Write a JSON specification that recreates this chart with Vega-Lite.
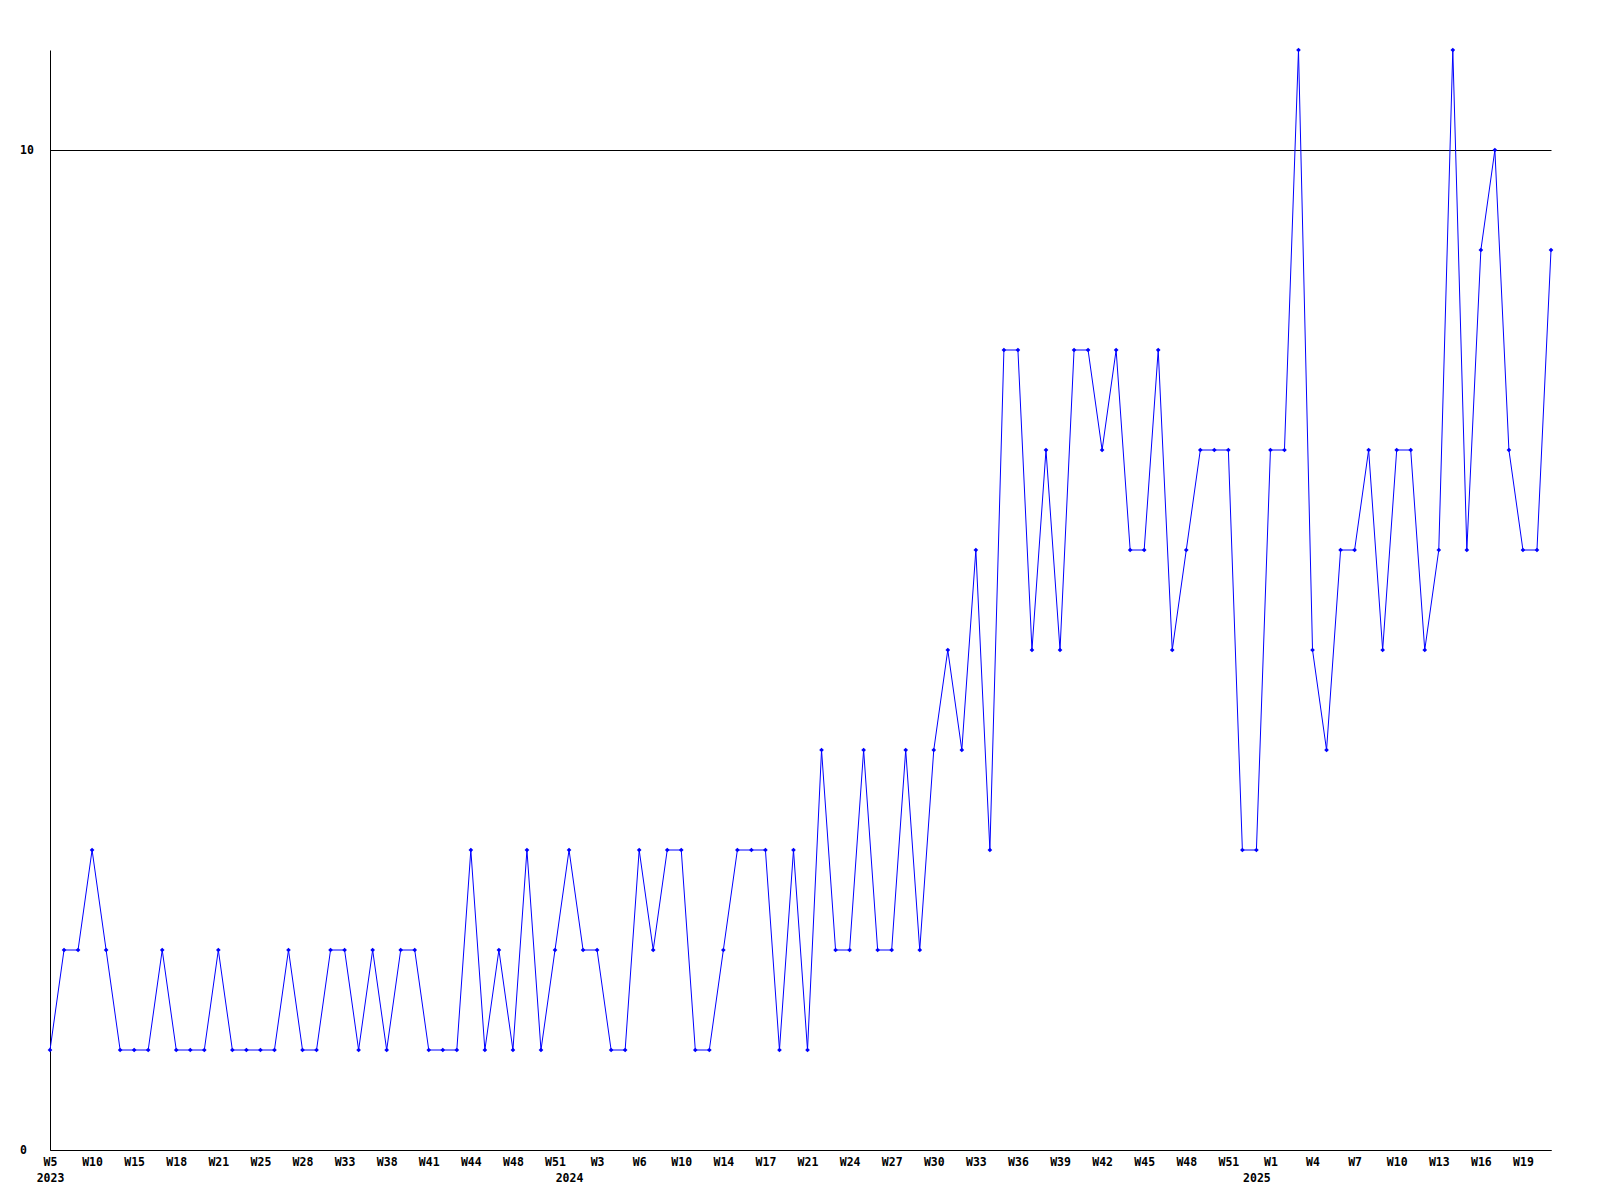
{
  "$schema": "https://vega.github.io/schema/vega-lite/v6.json",
  "width": 1501,
  "height": 1100,
  "autosize": {"type": "none"},
  "padding": {"left": 50, "top": 50, "right": 49, "bottom": 50},
  "background": "white",
  "config": {"view": {"stroke": null}},
  "data": {"values": [
    {"week": "2023-W05", "count": 1},
    {"week": "2023-W07", "count": 2},
    {"week": "2023-W08", "count": 2},
    {"week": "2023-W10", "count": 3},
    {"week": "2023-W12", "count": 2},
    {"week": "2023-W13", "count": 1},
    {"week": "2023-W15", "count": 1},
    {"week": "2023-W16", "count": 1},
    {"week": "2023-W17", "count": 2},
    {"week": "2023-W18", "count": 1},
    {"week": "2023-W19", "count": 1},
    {"week": "2023-W20", "count": 1},
    {"week": "2023-W21", "count": 2},
    {"week": "2023-W22", "count": 1},
    {"week": "2023-W24", "count": 1},
    {"week": "2023-W25", "count": 1},
    {"week": "2023-W26", "count": 1},
    {"week": "2023-W27", "count": 2},
    {"week": "2023-W28", "count": 1},
    {"week": "2023-W30", "count": 1},
    {"week": "2023-W31", "count": 2},
    {"week": "2023-W33", "count": 2},
    {"week": "2023-W35", "count": 1},
    {"week": "2023-W36", "count": 2},
    {"week": "2023-W38", "count": 1},
    {"week": "2023-W39", "count": 2},
    {"week": "2023-W40", "count": 2},
    {"week": "2023-W41", "count": 1},
    {"week": "2023-W42", "count": 1},
    {"week": "2023-W43", "count": 1},
    {"week": "2023-W44", "count": 3},
    {"week": "2023-W45", "count": 1},
    {"week": "2023-W47", "count": 2},
    {"week": "2023-W48", "count": 1},
    {"week": "2023-W49", "count": 3},
    {"week": "2023-W50", "count": 1},
    {"week": "2023-W51", "count": 2},
    {"week": "2024-W00", "count": 3},
    {"week": "2024-W02", "count": 2},
    {"week": "2024-W03", "count": 2},
    {"week": "2024-W04", "count": 1},
    {"week": "2024-W05", "count": 1},
    {"week": "2024-W06", "count": 3},
    {"week": "2024-W07", "count": 2},
    {"week": "2024-W09", "count": 3},
    {"week": "2024-W10", "count": 3},
    {"week": "2024-W11", "count": 1},
    {"week": "2024-W12", "count": 1},
    {"week": "2024-W14", "count": 2},
    {"week": "2024-W15", "count": 3},
    {"week": "2024-W16", "count": 3},
    {"week": "2024-W17", "count": 3},
    {"week": "2024-W18", "count": 1},
    {"week": "2024-W20", "count": 3},
    {"week": "2024-W21", "count": 1},
    {"week": "2024-W22", "count": 4},
    {"week": "2024-W23", "count": 2},
    {"week": "2024-W24", "count": 2},
    {"week": "2024-W25", "count": 4},
    {"week": "2024-W26", "count": 2},
    {"week": "2024-W27", "count": 2},
    {"week": "2024-W28", "count": 4},
    {"week": "2024-W29", "count": 2},
    {"week": "2024-W30", "count": 4},
    {"week": "2024-W31", "count": 5},
    {"week": "2024-W32", "count": 4},
    {"week": "2024-W33", "count": 6},
    {"week": "2024-W34", "count": 3},
    {"week": "2024-W35", "count": 8},
    {"week": "2024-W36", "count": 8},
    {"week": "2024-W37", "count": 5},
    {"week": "2024-W38", "count": 7},
    {"week": "2024-W39", "count": 5},
    {"week": "2024-W40", "count": 8},
    {"week": "2024-W41", "count": 8},
    {"week": "2024-W42", "count": 7},
    {"week": "2024-W43", "count": 8},
    {"week": "2024-W44", "count": 6},
    {"week": "2024-W45", "count": 6},
    {"week": "2024-W46", "count": 8},
    {"week": "2024-W47", "count": 5},
    {"week": "2024-W48", "count": 6},
    {"week": "2024-W49", "count": 7},
    {"week": "2024-W50", "count": 7},
    {"week": "2024-W51", "count": 7},
    {"week": "2024-W52", "count": 3},
    {"week": "2025-W00", "count": 3},
    {"week": "2025-W01", "count": 7},
    {"week": "2025-W02", "count": 7},
    {"week": "2025-W03", "count": 11},
    {"week": "2025-W04", "count": 5},
    {"week": "2025-W05", "count": 4},
    {"week": "2025-W06", "count": 6},
    {"week": "2025-W07", "count": 6},
    {"week": "2025-W08", "count": 7},
    {"week": "2025-W09", "count": 5},
    {"week": "2025-W10", "count": 7},
    {"week": "2025-W11", "count": 7},
    {"week": "2025-W12", "count": 5},
    {"week": "2025-W13", "count": 6},
    {"week": "2025-W14", "count": 11},
    {"week": "2025-W15", "count": 6},
    {"week": "2025-W16", "count": 9},
    {"week": "2025-W17", "count": 10},
    {"week": "2025-W18", "count": 7},
    {"week": "2025-W19", "count": 6},
    {"week": "2025-W20", "count": 6},
    {"week": "2025-W21", "count": 9}
  ]},
  "encoding": {
    "x": {
      "field": "week",
      "type": "ordinal",
      "sort": null,
      "scale": {"type": "point", "padding": 0},
      "axis": {
        "title": null,
        "values": ["2023-W05","2023-W10","2023-W15","2023-W18","2023-W21","2023-W25","2023-W28","2023-W33","2023-W38","2023-W41","2023-W44","2023-W48","2023-W51","2024-W00","2024-W03","2024-W06","2024-W10","2024-W14","2024-W17","2024-W21","2024-W24","2024-W27","2024-W30","2024-W33","2024-W36","2024-W39","2024-W42","2024-W45","2024-W48","2024-W51","2025-W00","2025-W01","2025-W04","2025-W07","2025-W10","2025-W13","2025-W16","2025-W19"],
        "labelExpr": "datum.value == '2023-W05' ? ['W5\u00a0', '2023'] : (slice(datum.value, 6) == '00' ? [' ', slice(datum.value, 0, 4)] : 'W' + toNumber(slice(datum.value, 6)) + (toNumber(slice(datum.value, 6)) < 10 ? '\u00a0' : ''))",
        "labelAngle": 0,
        "labelAlign": "center",
        "labelBaseline": "top",
        "labelPadding": 6,
        "labelLineHeight": 16,
        "labelOverlap": false,
        "labelFont": "DejaVu Sans Mono",
        "labelFontWeight": "bold",
        "labelFontSize": 11.5,
        "labelColor": "black",
        "ticks": false,
        "tickSize": 0,
        "domainColor": "black",
        "domainWidth": 1,
        "grid": false
      }
    },
    "y": {
      "field": "count",
      "type": "quantitative",
      "scale": {"domain": [0, 11], "nice": false, "zero": true},
      "axis": {
        "title": null,
        "values": [0, 10],
        "labelAlign": "left",
        "labelBaseline": "middle",
        "labelPadding": 30.5,
        "labelFont": "DejaVu Sans Mono",
        "labelFontWeight": "bold",
        "labelFontSize": 11.5,
        "labelColor": "black",
        "ticks": false,
        "tickSize": 0,
        "domainColor": "black",
        "domainWidth": 1,
        "grid": true,
        "gridColor": "black",
        "gridWidth": 1,
        "gridOpacity": 1
      }
    }
  },
  "layer": [
    {"mark": {"type": "line", "color": "#0000ff", "strokeWidth": 1}},
    {"mark": {"type": "point", "shape": "diamond", "filled": true, "color": "#0000ff", "size": 22, "opacity": 1}}
  ]
}
